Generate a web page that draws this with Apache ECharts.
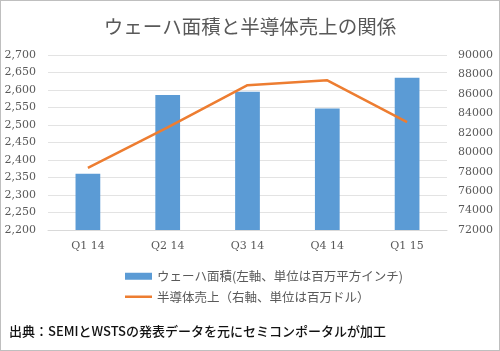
<!DOCTYPE html>
<html><head><meta charset="utf-8">
<script src="https://cdn.jsdelivr.net/npm/echarts@6/dist/echarts.min.js"></script>
<style>html,body{margin:0;padding:0;background:#fff}#c{width:500px;height:351px;box-sizing:border-box;border:1px solid #bfbfbf}</style>
</head><body><div id="c"></div>
<script>
const categories = ['Q1 14','Q2 14','Q3 14','Q4 14','Q1 15'];
const waferArea = [2361, 2586, 2595, 2547, 2635];
const semiSales = [78400, 82550, 86900, 87400, 83100];
const titleText = 'ウェーハ面積と半導体売上の関係';
const barName = 'ウェーハ面積(左軸、単位は百万平方インチ)';
const lineName = '半導体売上（右軸、単位は百万ドル）';
const sourceText = '出典：SEMIとWSTSの発表データを元にセミコンポータルが加工';

const chart = echarts.init(document.getElementById('c'));
const serif = '"DejaVu Serif", "Liberation Serif", serif';
const jp = '"Noto Sans CJK JP", sans-serif';
chart.setOption({
  animation: false,
  title: {text: titleText, left: 'center', top: 11,
    textStyle: {fontFamily: jp, fontSize: 19.5, fontWeight: 'normal', color: '#595959'}},
  grid: {left: 47, right: 52, top: 54, bottom: 120},
  legend: {orient: 'vertical', left: 119, top: 264, itemGap: 8, itemWidth: 27, itemHeight: 7,
    textStyle: {fontFamily: jp, fontSize: 12.5, color: '#595959'},
    data: [{name: barName, icon: 'rect'},
           {name: lineName, icon: 'path://M0,0 L27,0 L27,2.5 L0,2.5 Z'}]},
  xAxis: {type: 'category', data: categories,
    axisLine: {lineStyle: {color: '#d9d9d9'}}, axisTick: {show: false},
    axisLabel: {fontFamily: serif, fontSize: 11, color: '#595959', margin: 11}},
  yAxis: [
    {type: 'value', min: 2200, max: 2700, interval: 50,
      axisLine: {show: false}, axisTick: {show: false},
      splitLine: {lineStyle: {color: '#e3e3e3', width: 1}},
      axisLabel: {fontFamily: serif, fontSize: 11, color: '#595959', margin: 12,
        formatter: v => String(v).replace(/\B(?=(\d{3})+(?!\d))/g, ',')}},
    {type: 'value', min: 72000, max: 90000, interval: 2000,
      axisLine: {show: false}, axisTick: {show: false}, splitLine: {show: false},
      axisLabel: {fontFamily: serif, fontSize: 11, color: '#595959', margin: 11,
        formatter: v => String(v)}}
  ],
  series: [
    {name: barName, type: 'bar', data: waferArea, yAxisIndex: 0, barWidth: '31%',
      itemStyle: {color: '#5B9BD5'}},
    {name: lineName, type: 'line', data: semiSales, yAxisIndex: 1, symbol: 'none',
      lineStyle: {color: '#ED7D31', width: 2.5}, itemStyle: {color: '#ED7D31'}}
  ],
  graphic: [{type: 'text', left: 8, top: 324,
    style: {text: sourceText, fontFamily: jp, fontSize: 13, fontWeight: 500, fill: '#111'}}]
});
</script></body></html>
